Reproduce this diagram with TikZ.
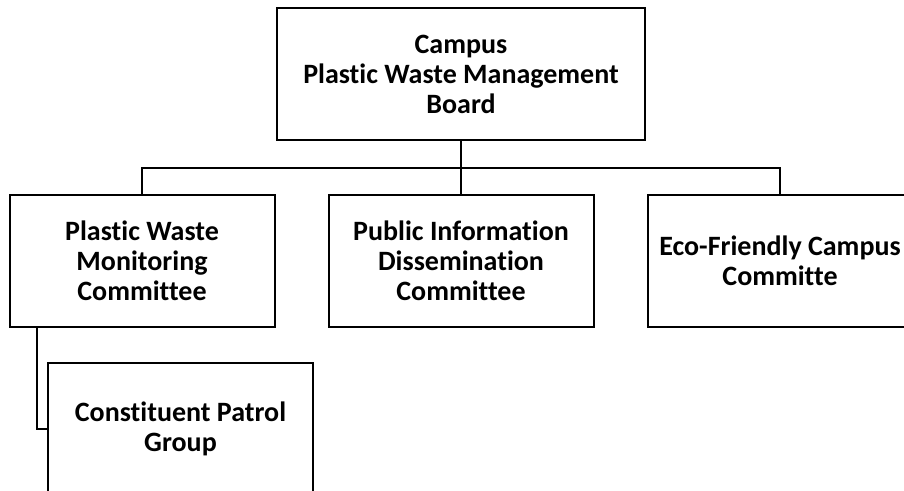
\documentclass[tikz,border=0pt]{standalone}
\usepackage{fontspec}
\setmainfont{Carlito}[Ligatures=NoCommon]
\usetikzlibrary{positioning}
\tikzset{
  orgbox/.style={draw, line width=2pt, align=center, font=\bfseries\fontsize{28}{30}\selectfont,
    minimum width=265pt, minimum height=132pt, inner sep=0pt},
  link/.style={line width=2pt}
}
\begin{document}
\begin{tikzpicture}[x=1pt,y=-1pt]
\useasboundingbox (0,0) rectangle (904,490);
% board on top
\node[orgbox, minimum width=368pt] (board) at (461,74) {Campus\\Plastic Waste Management\\Board};
% committees
\node[orgbox] (monitor) at (142,261) {Plastic Waste\\Monitoring\\Committee};
\node[orgbox] (info) at (461,261) {Public Information\\Dissemination\\Committee};
\node[orgbox] (eco) at (780,261) {Eco-Friendly Campus\\Committe};
% patrol group under monitoring
\node[orgbox, anchor=north west] (patrol) at (47,362) {Constituent Patrol\\Group};
% connectors
\draw[link] (board.south) -- (info.north);
\draw[link] (monitor.north) |- (461,168) -| (eco.north);
\draw[link] ([xshift=28pt]monitor.south west) |- (patrol.west);
\end{tikzpicture}
\end{document}
